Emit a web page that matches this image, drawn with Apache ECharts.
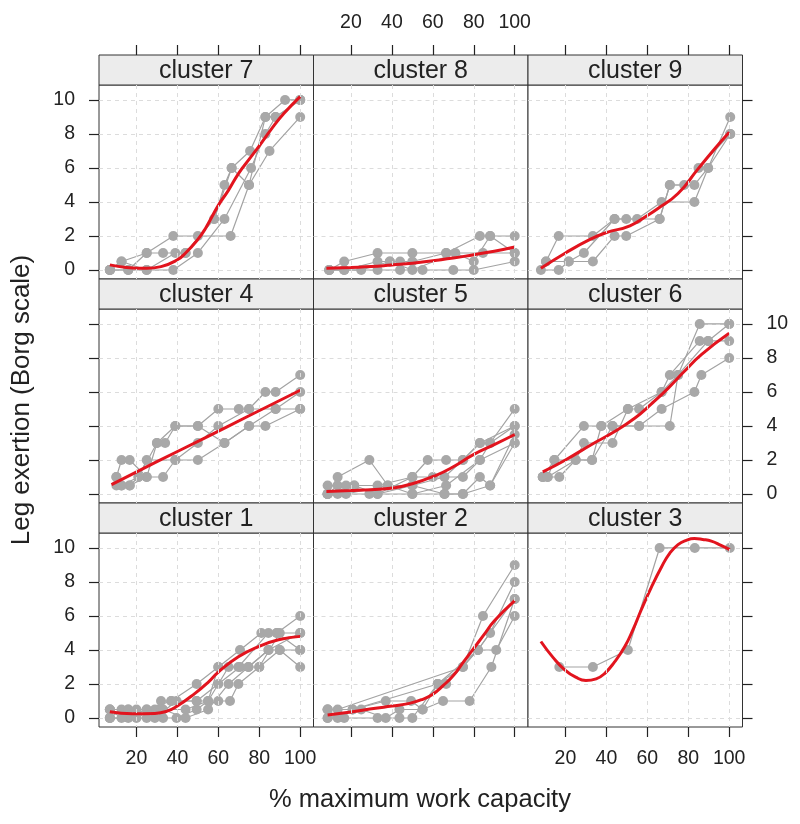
<!DOCTYPE html>
<html>
<head>
<meta charset="utf-8">
<script src="https://cdn.jsdelivr.net/npm/echarts@6/dist/echarts.min.js"></script>
<style>
html,body{margin:0;padding:0;background:#fff;}
#chart{width:800px;height:824px;}
</style>
</head>
<body>
<div id="chart"></div>
<script>
// ---- data ----
const xTicks = [20, 40, 60, 80, 100];
const yTicks = [0, 2, 4, 6, 8, 10];
const panelOrder = [7, 8, 9, 4, 5, 6, 1, 2, 3];
const xTitle = '% maximum work capacity';
const yTitle = 'Leg exertion (Borg scale)';

// individual subject trajectories [x, borg]
const c7Subjects = [
  [[7,0],[12.7,0.5],[25,1],[33,1],[44,1],[58,3],[63,5],[66.5,6],[75.5,7],[83,9],[92.6,10],[100,10]],
  [[7,0],[16,0],[25,0],[38,0],[50,1],[63,3],[76,6],[83,8],[88,9],[100,10]],
  [[7,0],[16,0],[25,1],[38,2],[50,2],[66,2],[75,5],[85,7],[100,9]],
  [[7,0],[12.7,0.5],[25,0],[39,1],[44,1],[58,3],[66.5,6],[75,5],[83,9],[88,9],[100,10]]
];
const c8Subjects = [
  [[9.4,0],[16.7,0.5],[33,1],[50,1],[66.5,1],[84.5,1],[100,1]],
  [[9.4,0],[16.7,0],[33,0.5],[39,0.5],[44,0.5],[50,0.5],[66.5,1],[83,2],[88,2],[100,2]],
  [[9.4,0],[16.7,0],[33,0],[44,0],[55,0],[70,0],[80,0],[100,0.5]],
  [[9.4,0],[25,0],[39,0.5],[50,0],[71,1],[80,0.5],[88,2],[100,1]]
];
const c9Subjects = [
  [[10.5,0.5],[16.7,2],[33.4,2],[44,3],[55,3],[67,4],[83,4],[89.7,6],[100.5,9]],
  [[8,0],[16.7,0],[21.6,0.5],[33.4,0.5],[44,2],[49.7,2],[66,3],[71,5],[78,5],[85,6],[100.5,8]],
  [[10.5,0.5],[21.6,0.5],[29,1],[44,3],[49.7,3],[66,3],[71,5],[83,5],[89.7,6],[100.5,8]]
];
const c4Subjects = [
  [[10.2,1],[12.7,2],[16.7,2],[25,1],[30,3],[34,3],[39,4],[50,4],[60,5],[70,5],[75,5],[83,6],[88,6],[100,7]],
  [[10.2,1],[12.7,0.5],[16.7,0.5],[21,1],[25,2],[39,2],[50,2],[63,3],[75,4],[83,4],[100,5]],
  [[10.2,0.5],[16.7,0.5],[25,1],[33,1],[39,2],[50,3],[60,4],[75,5],[88,5],[100,6]],
  [[12.7,0.5],[21,1],[30,3],[39,4],[50,4],[63,3],[75,4],[88,5],[100,5]]
];
const c5Subjects = [
  [[8.6,0],[13.5,1],[29,2],[38,0.5],[50,0],[65.7,0],[74.7,0],[88,0.5],[100,3]],
  [[8.6,0],[13.5,0.5],[21.6,0.5],[33,0.5],[50,1],[57.5,2],[66.5,2],[74.7,2],[83,3],[88,3],[100,5]],
  [[8.6,0.5],[17.6,0.5],[33,0],[50,0.5],[65.7,1],[74.7,2],[83,3],[100,4]],
  [[8.6,0],[17.6,0],[38,0.5],[50,0.5],[65.7,0],[74.7,0],[83,1],[88,0.5],[100,3.5]],
  [[8.6,0],[21.6,0.5],[33,0],[50,1],[60,1],[74.7,1],[83,2],[88,3],[100,4]],
  [[8.6,0],[13.5,0],[29,0],[50,0],[66.5,0.5],[83,2],[100,3]]
];
const c6Subjects = [
  [[8.9,1],[14.6,2],[29,4],[37.5,4],[43,4],[56,4],[71,4],[75,7],[85.6,10],[100,10]],
  [[8.9,1],[11.3,1],[25,2],[29,3],[43,3],[50.5,5],[56,5],[67,6],[71,7],[85.6,9],[89.7,9],[100,9]],
  [[8.9,1],[17,1],[25,2],[33,2],[43,4],[56,4],[67,5],[83,6],[86.4,7],[100,8]],
  [[11.3,1],[14.6,2],[33,2],[37.5,4],[50.5,5],[67,6],[75,7],[89.7,9],[100,10]]
];
const c1Subjects = [
  [[7,0],[12.7,0.5],[20,0.5],[29,0.5],[32,1],[37,1],[49.4,2],[60,3],[70.6,4],[81,5],[88.6,5],[100,6]],
  [[7,0.5],[16,0.5],[25,0],[33,0],[39.6,0],[49.4,0.5],[55,1],[65,3],[74.7,3],[84.5,4],[100,5]],
  [[7,0],[16,0],[25,0.5],[37,1],[49.4,1],[60,1],[65.7,1],[69.8,2],[80,3],[90,4],[100,3]],
  [[7,0.5],[12.7,0],[25,0.5],[32,0.5],[44,0.5],[55,1],[60,3],[69.8,3],[84.5,5],[88.6,5],[100,4]],
  [[7,0],[20,0],[29,0],[39.6,1],[49.4,1],[60,2],[70.6,3],[80,3],[90,5],[100,5]],
  [[7,0.5],[16,0.5],[33,0.5],[44,0],[55,0.5],[65,2],[74.7,3],[84.5,4],[90,4],[100,4]]
];
const c2Subjects = [
  [[8.6,0.5],[13.5,0.5],[74.7,3],[84.5,6],[100,9]],
  [[8.6,0],[16.7,0],[33,0],[43.7,0],[50,0],[62.4,2],[66.5,2],[82,4],[88,5],[100,8]],
  [[8.6,0.5],[20.8,0.5],[37,1],[49.4,1],[55,0.5],[65,1],[78,1],[88.6,3],[100,7]],
  [[8.6,0],[25,0.5],[37,0],[43.7,0.5],[55,0.5],[62.4,2],[74.7,3],[82,4],[91,4],[100,6]],
  [[8.6,0.5],[13.5,0],[20.8,0.5],[62.4,2],[82,4],[100,7]]
];
const c3Subjects = [
  [[17,3],[33.4,3],[50.5,4],[66,10],[83.2,10],[100.3,10]]
];

// smoothed cluster curves [x, borg]
const c7Curve = [[7,0.3],[15,0.15],[25,0.1],[32,0.2],[40,0.6],[44,1],[50,1.8],[53.5,2.4],[60,3.8],[65,4.7],[70,5.7],[75,6.5],[80,7.3],[86,8.3],[92,9.2],[100,10.2]];
const c8Curve = [[8,0.1],[20,0.15],[30,0.2],[40,0.3],[50,0.4],[60,0.55],[70,0.7],[80,0.9],[90,1.1],[100,1.35]];
const c9Curve = [[8,0.1],[20,1.0],[32,1.8],[40,2.2],[51.5,2.6],[60,3.2],[65,3.6],[75,4.5],[84.5,5.9],[92,7],[100,8.1]];
const c4Curve = [[7.8,0.55],[30,1.9],[53.5,3.3],[75,4.6],[100,6.1]];
const c5Curve = [[8,0.15],[20,0.2],[30,0.25],[40.4,0.35],[50,0.6],[61.6,1.1],[70,1.6],[79.6,2.3],[90,2.9],[100,3.5]];
const c6Curve = [[8.9,1.3],[20,2.0],[32.6,2.9],[43,3.6],[53.8,4.45],[62,5.3],[70,6.2],[78,7.2],[86.4,8.2],[100,9.45]];
const c1Curve = [[7,0.37],[18,0.25],[29,0.27],[35,0.4],[39.6,0.67],[48.6,1.45],[55,2.1],[60,2.7],[69.8,3.6],[79.6,4.2],[89.4,4.6],[100,4.8]];
const c2Curve = [[8.6,0.18],[20,0.35],[32,0.57],[40,0.7],[48.6,0.86],[55,1.1],[60,1.4],[65,1.9],[70,2.5],[75,3.3],[80,4.1],[85,4.9],[90,5.7],[100,6.9]];
const c3Curve = [[8,4.5],[14,3.55],[19.5,2.85],[25,2.4],[30,2.2],[35,2.3],[39,2.6],[44,3.3],[49,4.2],[53,5.2],[57,6.35],[62,7.7],[67,8.9],[71,9.7],[75,10.2],[79,10.45],[83,10.55],[87,10.5],[91.3,10.4],[96,10.15],[100.3,9.9]];

const subjectsByCluster = {1:c1Subjects,2:c2Subjects,3:c3Subjects,4:c4Subjects,5:c5Subjects,6:c6Subjects,7:c7Subjects,8:c8Subjects,9:c9Subjects};
const curveByCluster = {1:c1Curve,2:c2Curve,3:c3Curve,4:c4Curve,5:c5Curve,6:c6Curve,7:c7Curve,8:c8Curve,9:c9Curve};

// ---- layout ----
const FONT = "'Liberation Sans', Arial, Helvetica, sans-serif";
const colLeft = [99, 313.5, 528];
const colW = 214.5;
const rowTop = [55, 279, 503];
const stripH = 30;
const plotH = 194;
const X_MIN = 1.7, X_MAX = 106.5, Y_MIN = -0.53, Y_MAX = 10.88;

const grids = [], xAxes = [], yAxes = [], series = [], graphics = [];

panelOrder.forEach((cl, i) => {
  const r = Math.floor(i / 3), c = i % 3;
  grids.push({
    left: colLeft[c], top: rowTop[r] + stripH, width: colW, height: plotH,
    show: true, borderColor: '#333', borderWidth: 1, backgroundColor: '#fff', z: 0
  });
  const xTickOn = (r === 0 || r === 2);
  const xLabelOn = (r === 0 && c === 1) || (r === 2 && c !== 1);
  xAxes.push({
    gridIndex: i, type: 'value', min: X_MIN, max: X_MAX,
    position: r === 0 ? 'top' : 'bottom', offset: r === 0 ? stripH : 0,
    z: 20,
    axisLine: { show: false, onZero: false },
    axisTick: { show: xTickOn, inside: false, length: 10, customValues: xTicks, lineStyle: { color: '#222', width: 1.2 } },
    axisLabel: { show: xLabelOn, customValues: xTicks, fontSize: 19.5, margin: 22, color: '#222', fontFamily: FONT },
    splitLine: { show: true, lineStyle: { color: '#dcdcdc', type: [4, 4], width: 1 } }
  });
  const yTickOn = (c === 0 || c === 2);
  const yLabelOn = (c === 0 && r !== 1) || (c === 2 && r === 1);
  yAxes.push({
    gridIndex: i, type: 'value', min: Y_MIN, max: Y_MAX,
    position: c === 2 ? 'right' : 'left',
    axisLine: { show: false, onZero: false },
    axisTick: { show: yTickOn, inside: false, length: 10, customValues: yTicks, lineStyle: { color: '#222', width: 1.2 } },
    axisLabel: { show: yLabelOn, customValues: yTicks, fontSize: 19.5, margin: 24, color: '#222', fontFamily: FONT },
    splitLine: { show: true, lineStyle: { color: '#dcdcdc', type: [4, 4], width: 1 } }
  });
  subjectsByCluster[cl].forEach((subj) => {
    series.push({
      type: 'line', xAxisIndex: i, yAxisIndex: i, data: subj,
      symbol: 'circle', symbolSize: 10, showSymbol: true,
      itemStyle: { color: '#a8a8a8' },
      lineStyle: { color: '#a3a3a3', width: 1.2 },
      z: 2, silent: true
    });
  });
  series.push({
    type: 'line', xAxisIndex: i, yAxisIndex: i, data: curveByCluster[cl],
    smooth: 0.5, showSymbol: false, symbol: 'none',
    lineStyle: { color: '#e2141e', width: 3 },
    z: 5, silent: true
  });
  // strip
  graphics.push({
    type: 'rect', shape: { x: colLeft[c], y: rowTop[r], width: colW, height: stripH },
    style: { fill: '#ececec', stroke: '#333', lineWidth: 1 }, z: 10
  });
  graphics.push({
    type: 'text', x: colLeft[c] + colW / 2, y: rowTop[r] + stripH / 2 + 1,
    style: { text: 'cluster ' + cl, fill: '#222', font: '25px ' + FONT, textAlign: 'center', textVerticalAlign: 'middle', align: 'center', verticalAlign: 'middle' },
    z: 11
  });
});

graphics.push({
  type: 'text', x: 420, y: 800,
  style: { text: xTitle, fill: '#222', font: '25.5px ' + FONT, textAlign: 'center', textVerticalAlign: 'middle', align: 'center', verticalAlign: 'middle' },
  z: 11
});
graphics.push({
  type: 'text', x: 22, y: 400, rotation: Math.PI / 2,
  style: { text: yTitle, fill: '#222', font: '26px ' + FONT, textAlign: 'center', textVerticalAlign: 'middle', align: 'center', verticalAlign: 'middle' },
  z: 11
});

const chart = echarts.init(document.getElementById('chart'), null, { renderer: 'canvas' });
chart.setOption({
  animation: false,
  backgroundColor: '#fff',
  grid: grids,
  xAxis: xAxes,
  yAxis: yAxes,
  series: series,
  graphic: { elements: graphics }
});
</script>
</body>
</html>
